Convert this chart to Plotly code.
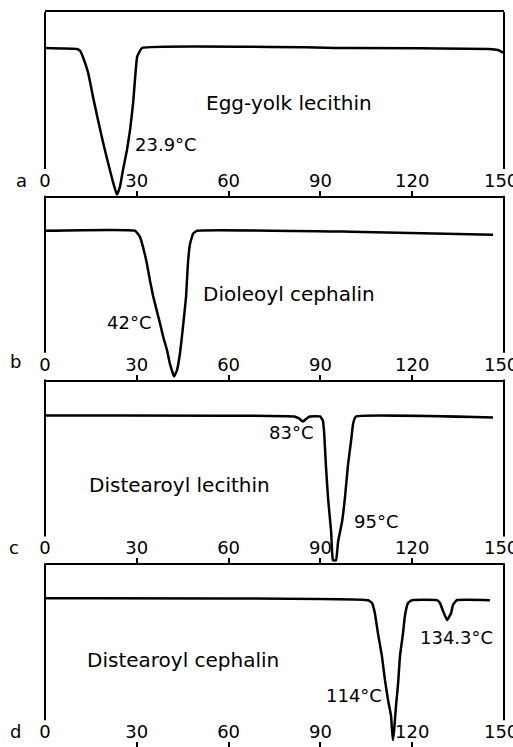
import plotly.graph_objects as go

# ---- data (temperature in °C, signal in arbitrary units) ----
temp_a = [0, 10.5, 11.5, 12.4, 14.1, 15.7, 17.3, 19.0, 20.6, 22.2, 23.5, 24.5, 25.5, 26.8, 27.8, 28.8, 29.4, 30.1, 31.7, 100, 145, 148, 150]
sig_a = [148, 147, 145, 139, 123, 99, 76, 53, 33, 14, 1, 9, 26, 46, 66, 93, 116, 139, 148, 148, 147, 146, 143]

temp_b = [0, 29.4, 31.0, 32.0, 33.3, 34.3, 35.3, 36.6, 37.6, 38.6, 39.9, 40.8, 41.8, 42.2, 43.1, 44.1, 45.1, 46.1, 46.7, 47.4, 48.4, 49.7, 100, 146.4]
sig_b = [149, 149, 143, 133, 116, 99, 84, 68, 56, 43, 29, 16, 6, 3, 9, 26, 53, 83, 116, 136, 146, 149, 148, 145]

temp_c = [0, 81.5, 83, 84.3, 85.5, 86.5, 89.9, 90.8, 91.2, 91.8, 92.5, 93.5, 93.8, 94.1, 95.1, 95.8, 97.1, 98.0, 99.0, 100.0, 100.7, 101.6, 146.4]
sig_c = [148, 147, 145, 142, 145, 147, 147, 143, 132, 98, 65, 32, 12, 3, 3, 22, 42, 65, 98, 122, 140, 147, 146]

temp_d = [0, 105.6, 106.9, 107.8, 108.8, 110.1, 111.1, 112.1, 113.1, 113.4, 113.7, 114.1, 114.7, 115.4, 116.0, 117.0, 117.6, 118.6, 119.9, 128.1, 129.1, 130.1, 131.4, 132.7, 133.3, 134.6, 145.4]
sig_d = [149, 147, 144, 134, 114, 91, 67, 47, 31, 17, 7, 17, 41, 64, 91, 114, 131, 144, 147, 147, 144, 136, 127, 134, 142, 147, 147]

tick_vals = [0, 30, 60, 90, 120, 150]
tick_text = ["0", "30", "60", "90", "120", "150\u00a0"]

panel_letters = ["a", "b", "c", "d"]
panel_names = ["Egg-yolk lecithin", "Dioleoyl cephalin", "Distearoyl lecithin", "Distearoyl cephalin"]

# ---- figure ----
FONT = "DejaVu Sans"
series = [(temp_a, sig_a), (temp_b, sig_b), (temp_c, sig_c), (temp_d, sig_d)]
fig = go.Figure()

n = 4
layout = dict(
    width=513, height=747,
    margin=dict(l=45, r=9, t=12, b=0, autoexpand=False),
    paper_bgcolor="white", plot_bgcolor="white",
    showlegend=False,
    font=dict(family=FONT, color="black"),
)

shapes = []
for i, (tx, sy) in enumerate(series):
    k = "" if i == 0 else str(i + 1)
    fig.add_trace(go.Scatter(
        x=tx, y=sy, mode="lines",
        line=dict(color="black", width=2.5, shape="spline", smoothing=0.3),
        xaxis="x" + k, yaxis="y" + k, hoverinfo="skip", cliponaxis=False,
    ))
    top = 1 - i / n
    bot = 1 - (i + 1) / n
    layout["xaxis" + k] = dict(
        domain=[0, 1], anchor="y" + k, range=[0, 150],
        showline=(i < 3), linecolor="black", linewidth=2,
        mirror=(i == 0),
        ticks="inside", ticklen=5, tickwidth=2, tickcolor="black",
        tickvals=tick_vals, ticktext=tick_text,
        ticklabelposition="inside", ticklabeloverflow="allow",
        ticklabelstandoff=1,
        tickfont=dict(family=FONT, size=18, color="black"),
        showgrid=False, zeroline=False, fixedrange=True, automargin=False,
    )
    layout["yaxis" + k] = dict(
        domain=[bot, top], anchor="x" + k, range=[0, 184],
        visible=False, fixedrange=True, automargin=False,
    )
    for xv in (0, 1):
        shapes.append(dict(
            type="line", xref="x" + k + " domain", yref="y" + k + " domain",
            x0=xv, x1=xv, y0=0.145, y1=1,
            line=dict(color="black", width=2),
        ))

layout["shapes"] = shapes

ann = []
def add(panel, x, y, text, size=17, xanchor="center", xref=None):
    k = "" if panel == 0 else str(panel + 1)
    ann.append(dict(xref=xref or ("x" + k), yref="y" + k, x=x, y=y, text=text,
                    showarrow=False, xanchor=xanchor, yanchor="middle",
                    font=dict(family=FONT, size=size, color="black")))

# panel names
add(0, 79.7, 93, panel_names[0], 20)
add(1, 79.7, 86, panel_names[1], 20)
add(2, 44.1, 78, panel_names[2], 20)
add(3, 45.1, 87, panel_names[3], 20)
# peak labels
add(0, 28.8, 51, "23.9°C", 18, "left")
add(1, 35.3, 57, "42°C", 18, "right")
add(2, 80.4, 131, "83°C", 18)
add(2, 100.3, 42, "95°C", 18, "left")
add(3, 110.8, 52, "114°C", 18, "right")
add(3, 134.6, 110, "134.3°C", 18)
# panel letters (placed in paper coordinates, left of the frame)
letter_y = [15, 18, 16, 16]
letter_x = [-0.052, -0.064, -0.068, -0.064]
for i in range(4):
    add(i, letter_x[i], letter_y[i], panel_letters[i], 18, "center", "paper")

layout["annotations"] = ann
fig.update_layout(**layout)
fig.write_html("out.html", config={"displayModeBar": False},
               post_script="document.body.style.margin='0px';document.body.style.overflow='hidden';")
